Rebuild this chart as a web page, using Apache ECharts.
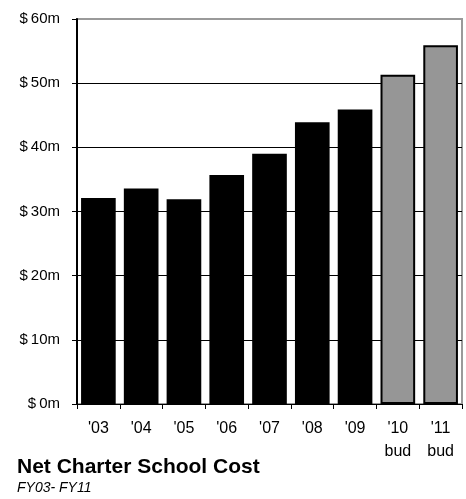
<!DOCTYPE html>
<html>
<head>
<meta charset="utf-8">
<script src="https://cdn.jsdelivr.net/npm/echarts@6/dist/echarts.min.js"></script>
<style>
  html, body { margin: 0; padding: 0; background: #fff; }
  #chart { width: 466px; height: 499px; }
</style>
</head>
<body>
<div id="chart"></div>
<script>
// Net charter school cost by fiscal year, $ millions
const categories = ["'03", "'04", "'05", "'06", "'07", "'08", "'09", "'10\nbud", "'11\nbud"];
const costs = [32.1, 33.6, 31.9, 35.7, 39.0, 43.9, 45.9, 51.3, 55.9];
const budgeted = [false, false, false, false, false, false, false, true, true];
const yTickLabels = ['0m', '10m', '20m', '30m', '40m', '50m', '60m'];

const FONT = '"Liberation Sans", Arial, sans-serif';

const barData = costs.map((v, i) => ({
  value: v,
  itemStyle: budgeted[i]
    ? { color: '#969696', borderColor: '#000', borderWidth: 2 }
    : { color: '#000' }
}));

const chart = echarts.init(document.getElementById('chart'), null, { renderer: 'canvas' });
chart.setOption({
  animation: false,
  backgroundColor: '#fff',
  title: [
    {
      text: 'Net Charter School Cost',
      left: 17, top: 457, padding: 0,
      textStyle: { fontFamily: FONT, fontSize: 21, fontWeight: 'bold', color: '#000' }
    },
    {
      text: 'FY03- FY11',
      left: 17, top: 481, padding: 0,
      textStyle: { fontFamily: FONT, fontSize: 14, fontStyle: 'italic', fontWeight: 'normal', color: '#000' }
    }
  ],
  grid: {
    left: 77, right: 4, top: 19, bottom: 95,
    show: true, borderColor: '#9a9a9a', borderWidth: 2, backgroundColor: 'transparent'
  },
  xAxis: {
    type: 'category',
    data: categories,
    axisLine: { lineStyle: { color: '#000', width: 1 } },
    axisTick: { show: true, length: 5, lineStyle: { color: '#000' } },
    axisLabel: {
      fontFamily: FONT, fontSize: 16, color: '#000', margin: 13, lineHeight: 23
    }
  },
  yAxis: {
    type: 'value',
    min: 0, max: 60, interval: 10,
    axisLine: { show: true, lineStyle: { color: '#000', width: 2 } },
    axisTick: { show: true, length: 5, lineStyle: { color: '#000' } },
    axisLabel: {
      fontFamily: FONT, fontSize: 15, color: '#000', margin: 17,
      formatter: (v) => '{d|$}' + yTickLabels[Math.round(v / 10)],
      rich: {
        d: { fontFamily: FONT, fontSize: 15, color: '#000', padding: [0, 3, 0, 0] }
      }
    },
    splitLine: { show: true, showMaxLine: false, lineStyle: { color: '#000', width: 1 } }
  },
  series: [{
    type: 'bar',
    data: barData,
    barCategoryGap: '19%'
  }]
});
</script>
</body>
</html>
